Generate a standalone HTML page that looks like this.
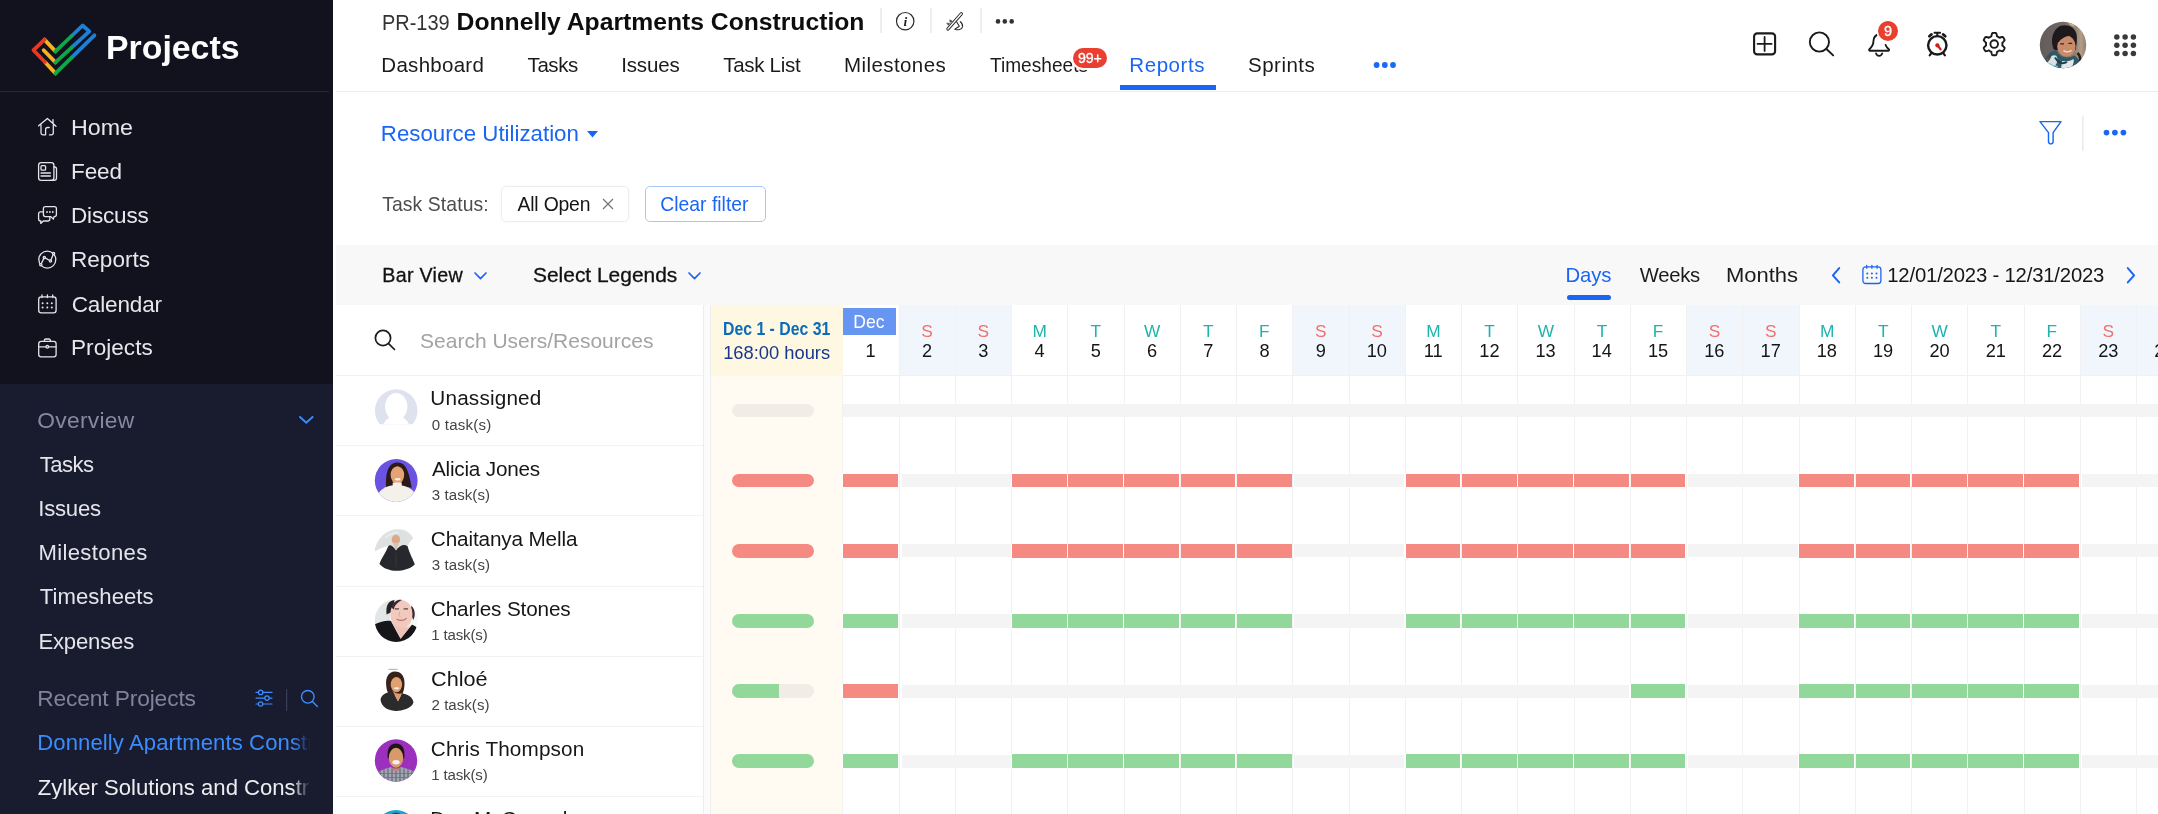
<!DOCTYPE html><html lang="en"><head><meta charset="utf-8"><title>Resource Utilization - Projects</title><style>
*{box-sizing:border-box;margin:0;padding:0}
html,body{width:2158px;height:814px;overflow:hidden;background:#fff}
body{font-family:"Liberation Sans",sans-serif;position:relative;color:#111}
.abs{position:absolute}
.t{position:absolute;white-space:nowrap;line-height:1}
#root{position:absolute;left:0;top:0;width:2158px;height:814px;overflow:hidden;will-change:transform}
#side{position:absolute;left:0;top:0;width:333px;height:814px;background:#191b2e;overflow:hidden}
#sidetop{position:absolute;left:0;top:0;width:333px;height:384px;background:#12121f}
.vdiv{position:absolute;width:1.5px;background:#eeeeee}
svg{position:absolute;overflow:visible}
.hl{position:absolute;height:1px;background:#f2f2f3}
.colbg{position:absolute;top:305px;height:70px;background:#f1f6fd}
.vl{position:absolute;top:305px;width:1px;height:509px;background:#f1f1f1}
.bar{position:absolute;height:13.5px}
.av{position:absolute;width:43px;height:43px;border-radius:50%;overflow:hidden;left:374.5px}
</style></head><body><div id="root">
<div id="side"><div id="sidetop"></div>
<div class="abs" style="left:0;top:91px;width:329px;height:1px;background:#26283a"></div>
<svg style="left:0;top:0" width="120" height="90" viewBox="0 0 120 90" fill="none" stroke-width="3.8" stroke-linecap="round" stroke-linejoin="round">
<path d="M71.6 36 L82.6 25.5 L89.3 31.4 L71.6 47.6" stroke="#1a80d9"/>
<path d="M71.6 57.6 L94.4 35.3" stroke="#1a80d9"/>
<path d="M44.5 39.6 L55.5 51.4" stroke="#f9b21d"/>
<path d="M55.5 62.4 L43.7 50.2" stroke="#f9b21d"/>
<path d="M44.9 62 L55.5 73.4" stroke="#f9b21d"/>
<path d="M55.5 51.4 L71.6 36" stroke="#10a64c"/>
<path d="M71.6 47.6 L55.5 62.4" stroke="#10a64c"/>
<path d="M55.5 73.4 L71.6 57.6" stroke="#10a64c"/>
<path d="M44.5 39.6 L33.5 50.2 L44.9 62" stroke="#f0351f"/>
</svg>
<div class="t " style="left:106.20px;top:32.00px;font-size:32.3px;color:#fdfdfd;letter-spacing:0.000px;font-weight:700;transform:scaleX(1.0474);transform-origin:0 0;">Projects</div>
<div class="t " style="left:71.00px;top:117.00px;font-size:22.54px;color:#e6e6eb;letter-spacing:0.000px;transform:scaleX(1.0320);transform-origin:0 0;">Home</div>
<div class="t " style="left:71.00px;top:161.00px;font-size:22.54px;color:#e6e6eb;letter-spacing:-0.108px;">Feed</div>
<div class="t " style="left:71.00px;top:205.00px;font-size:22.54px;color:#e6e6eb;letter-spacing:-0.183px;">Discuss</div>
<div class="t " style="left:71.00px;top:249.00px;font-size:22.54px;color:#e6e6eb;letter-spacing:0.024px;">Reports</div>
<div class="t " style="left:71.67px;top:294.00px;font-size:22.54px;color:#e6e6eb;letter-spacing:-0.142px;">Calendar</div>
<div class="t " style="left:71.00px;top:337.00px;font-size:22.54px;color:#e6e6eb;letter-spacing:0.052px;">Projects</div>
<div class="t " style="left:37.37px;top:409.00px;font-size:22.78px;color:#858aa2;letter-spacing:0.276px;">Overview</div>
<div class="t " style="left:39.76px;top:454.00px;font-size:22.14px;color:#e4e4ea;letter-spacing:-0.588px;">Tasks</div>
<div class="t " style="left:38.21px;top:498.00px;font-size:22.14px;color:#e4e4ea;letter-spacing:-0.203px;">Issues</div>
<div class="t " style="left:38.43px;top:542.00px;font-size:22.14px;color:#e4e4ea;letter-spacing:0.346px;">Milestones</div>
<div class="t " style="left:39.76px;top:586.00px;font-size:22.14px;color:#e4e4ea;letter-spacing:0.032px;">Timesheets</div>
<div class="t " style="left:38.43px;top:631.00px;font-size:22.14px;color:#e4e4ea;letter-spacing:-0.186px;">Expenses</div>
<div class="t " style="left:37.18px;top:687.00px;font-size:22.78px;color:#7f849c;letter-spacing:-0.136px;">Recent Projects</div>
<div class="t " style="left:37.23px;top:732.00px;font-size:22.14px;color:#3b8cff;letter-spacing:0.079px;width:275px;overflow:hidden;">Donnelly Apartments Construction</div>
<div class="t " style="left:37.74px;top:777.00px;font-size:22.14px;color:#ededf1;letter-spacing:-0.013px;width:275px;overflow:hidden;">Zylker Solutions and Construction</div>
<div class="abs" style="left:292px;top:725px;width:22px;height:89px;background:linear-gradient(90deg,rgba(25,27,46,0),#191b2e 85%)"></div>
<svg style="left:0;top:0" width="333" height="814" viewBox="0 0 333 814" fill="none" stroke="#e4e4ea" stroke-width="1.3" stroke-linecap="round" stroke-linejoin="round">
<!-- home -->
<path d="M38.6 125.8 L47.4 118.5 L56 126.3 M53 119.6 V123.4 M41 125 V133 a1.8 1.8 0 0 0 1.8 1.8 H45.6 V129.6 a2.1 2.1 0 0 1 2.1 -2.1 H49.2 M53.3 125 V133 a1.8 1.8 0 0 1 -1.8 1.8 H49.4"/>
<!-- feed -->
<rect x="38.6" y="162.6" width="15.3" height="17.8" rx="2.6"/>
<path d="M53.9 167 h.6 a2 2 0 0 1 2 2 V178 a2.4 2.4 0 0 1 -2.4 2.4 H50"/>
<rect x="41" y="165.6" width="4.6" height="4.6" rx="1"/>
<path d="M41 173 H50.4 M41 176 H50.4"/>
<!-- discuss -->
<path d="M45.4 206.6 H54.4 a2 2 0 0 1 2 2 V214.6 a2 2 0 0 1 -2 2 H54 L53.4 219 L50.6 216.6 H45.4 a2 2 0 0 1 -2 -2 V208.6 a2 2 0 0 1 2 -2 Z"/>
<path d="M43.2 211.8 H40.6 a2 2 0 0 0 -2 2 V219 a2 2 0 0 0 2 2 H40.9 L40.7 223.4 L43.4 221 H47.8 a2 2 0 0 0 2 -2 V217"/>
<g fill="#e4e4ea" stroke="none"><circle cx="47" cy="212" r=".9"/><circle cx="49.9" cy="212" r=".9"/><circle cx="52.8" cy="212" r=".9"/></g>
<!-- reports -->
<circle cx="47.3" cy="259.6" r="8.5"/>
<path d="M40.8 264.8 L44.3 257.4 L50.5 261 L53.6 253.6"/>
<g fill="#12121f"><circle cx="40.8" cy="264.8" r="1.1"/><circle cx="44.3" cy="257.4" r="1.1"/><circle cx="50.5" cy="261" r="1.1"/><circle cx="53.6" cy="253.6" r="1.1"/></g>
<!-- calendar -->
<rect x="38.7" y="296.8" width="17.4" height="16" rx="2.6"/>
<path d="M42 295 V297.6 M47.4 295 V297.6 M52.7 295 V297.6"/>
<g fill="#e4e4ea" stroke="none"><circle cx="42.6" cy="303.3" r="1"/><circle cx="47.3" cy="303.3" r="1"/><circle cx="51.8" cy="303.3" r="1"/><circle cx="42.6" cy="307.6" r="1"/><circle cx="47.3" cy="307.6" r="1"/><circle cx="51.8" cy="307.6" r="1"/></g>
<!-- briefcase -->
<rect x="38.7" y="341.4" width="17.4" height="15.4" rx="2.4"/>
<path d="M44.3 341.2 V340.6 a1.6 1.6 0 0 1 1.6 -1.6 H48.8 a1.6 1.6 0 0 1 1.6 1.6 V341.2 M38.8 346.8 H45.8 M48.8 346.8 H56"/>
<circle cx="47.3" cy="346.8" r="1.3"/>
<!-- overview chevron -->
<path d="M300 416.9 L306.3 422.7 L312.600 416.9" stroke="#2f8dff" stroke-width="2"/>
<!-- sliders -->
<g stroke="#3c8dff" stroke-width="1.2"><path d="M256 692.4 H258.3 M263 692.4 H272 M256 698.1 H264.6 M269.4 698.1 H272 M256 704 H258.2 M262.9 704 H272"/><circle cx="260.7" cy="692.4" r="2.2"/><circle cx="267" cy="698.1" r="2.2"/><circle cx="260.6" cy="704" r="2.2"/></g>
<path d="M286.6 689.5 V710.5" stroke="#3a3e57" stroke-width="1.2"/>
<g stroke="#3c8dff" stroke-width="1.4"><circle cx="307.8" cy="696.8" r="6.3"/><path d="M312.4 701.4 L317.4 706.4"/></g>
</svg>
</div>
<div class="abs" style="left:336px;top:91px;width:1822px;height:1px;background:#ececec"></div>
<div class="t " style="left:381.86px;top:12.00px;font-size:21.8px;color:#333;letter-spacing:0.000px;transform:scaleX(0.9153);transform-origin:0 0;">PR-139</div>
<div class="t " style="left:456.60px;top:10.00px;font-size:24.69px;color:#0d0d0d;letter-spacing:0.000px;font-weight:700;">Donnelly Apartments Construction</div>
<div class="vdiv" style="left:880px;top:8px;height:25px"></div>
<div class="vdiv" style="left:930px;top:8px;height:25px"></div>
<div class="vdiv" style="left:980px;top:8px;height:25px"></div>
<svg style="left:0;top:0" width="2158" height="100" viewBox="0 0 2158 100" fill="none" stroke="#1a1a1a" stroke-linecap="round" stroke-linejoin="round">
<!-- info -->
<circle cx="905.2" cy="21.2" r="8.7" stroke="#2a2a2a" stroke-width="1.2"/>
<text x="905.3" y="25.8" text-anchor="middle" font-family="Liberation Serif, serif" font-style="italic" font-weight="700" font-size="13.5" fill="#222" stroke="none">i</text>
<!-- pen -->
<g stroke="#2e2e2e" stroke-width="1.1">
<path d="M948 28.900 L961.300 13.800" stroke-width="3.300" />
<path d="M948 28.900 L961.300 13.800" stroke="#fff" stroke-width="1.400"/>
<path d="M950 20 L952.2 21.100 L950.3 22.200 Z M947.100 23 L949.700 23.700 L948.300 25 Z" fill="#2e2e2e" stroke-width=".5"/>
<path d="M956.600 21.700 L959.300 26.200 L954.800 29.200 C958 30.300 961.700 29.800 962.500 26.900 C963 24.900 962 23 960.300 21.700"/>
</g>
<!-- dots -->
<g fill="#333" stroke="none"><circle cx="998" cy="21.4" r="2.3"/><circle cx="1004.8" cy="21.4" r="2.3"/><circle cx="1011.7" cy="21.4" r="2.3"/></g>
<g fill="#1a6af5" stroke="none"><circle cx="1376.6" cy="65" r="2.9"/><circle cx="1384.8" cy="65" r="2.9"/><circle cx="1393" cy="65" r="2.9"/></g>
<!-- plus box -->
<rect x="1754.1" y="33.4" width="21" height="21" rx="3.2" stroke-width="2.1"/>
<path d="M1757.6 43.9 H1771.6 M1764.6 36.9 V50.9" stroke-width="1.8"/>
<!-- search -->
<circle cx="1819.4" cy="42" r="9.6" stroke-width="1.9"/>
<path d="M1826.4 49 L1833.2 55.4" stroke-width="1.9"/>
<!-- bell -->
<path d="M1879 34 C1875.6 35 1873.4 38 1873.4 41.6 C1873.4 45.6 1871.4 47.4 1869.4 49.2 C1868.8 49.8 1869.2 50.8 1870 50.8 H1888.2 C1889 50.8 1889.4 49.8 1888.8 49.2 C1887.6 48.2 1886.4 47 1885.6 45" stroke-width="1.9"/>
<path d="M1876 53.4 a3.2 3.2 0 0 0 6.2 0" stroke-width="1.8"/>
<circle cx="1888" cy="31" r="10.8" fill="#e8402f" stroke="#fff" stroke-width="1.6"/>
<text x="1888" y="36.2" text-anchor="middle" font-family="Liberation Sans, sans-serif" font-size="14.5" fill="#fff" stroke="#fff" stroke-width=".3">9</text>
<!-- clock -->
<circle cx="1937.3" cy="45.3" r="9.2" stroke-width="2.4"/>
<path d="M1934.500 32.700 H1940.100 M1937.300 33 V35.600" stroke-width="2"/>
<path d="M1929.300 36.200 L1931.500 34.400 M1945.300 36.200 L1943.100 34.400" stroke-width="2.700"/>
<path d="M1931 53.600 L1929.700 55.300 M1943.600 53.600 L1944.900 55.300" stroke-width="2.200"/>
<path d="M1937.600 45.600 L1940.600 49.300" stroke="#cc1f1a" stroke-width="2.200"/><circle cx="1937.400" cy="45.300" r="2.100" fill="#cc1f1a" stroke="none"/>
<!-- gear -->
<g transform="translate(1994.2 44.1)" stroke-width="1.9">
<path d="M0.00 -11.20 L0.49 -11.19 L0.98 -11.16 L1.46 -11.10 L1.93 -10.96 L2.26 -10.19 L2.51 -9.37 L2.70 -8.55 L2.83 -7.78 L3.14 -7.58 L3.47 -7.43 L3.79 -7.27 L4.10 -7.10 L4.41 -6.92 L4.70 -6.72 L4.99 -6.51 L5.32 -6.34 L6.05 -6.61 L6.86 -6.86 L7.70 -7.05 L8.52 -7.15 L8.89 -6.82 L9.17 -6.42 L9.45 -6.02 L9.70 -5.60 L9.93 -5.17 L10.15 -4.73 L10.35 -4.29 L10.45 -3.80 L9.95 -3.14 L9.37 -2.51 L8.75 -1.94 L8.15 -1.44 L8.13 -1.07 L8.17 -0.71 L8.19 -0.36 L8.20 -0.00 L8.19 0.36 L8.17 0.71 L8.13 1.07 L8.15 1.44 L8.75 1.94 L9.37 2.51 L9.95 3.14 L10.45 3.80 L10.35 4.29 L10.15 4.73 L9.93 5.17 L9.70 5.60 L9.45 6.02 L9.17 6.42 L8.89 6.82 L8.52 7.15 L7.70 7.05 L6.86 6.86 L6.05 6.61 L5.32 6.34 L4.99 6.51 L4.70 6.72 L4.41 6.92 L4.10 7.10 L3.79 7.27 L3.47 7.43 L3.14 7.58 L2.83 7.78 L2.70 8.55 L2.51 9.37 L2.26 10.19 L1.93 10.96 L1.46 11.10 L0.98 11.16 L0.49 11.19 L0.00 11.20 L-0.49 11.19 L-0.98 11.16 L-1.46 11.10 L-1.93 10.96 L-2.26 10.19 L-2.51 9.37 L-2.70 8.55 L-2.83 7.78 L-3.14 7.58 L-3.47 7.43 L-3.79 7.27 L-4.10 7.10 L-4.41 6.92 L-4.70 6.72 L-4.99 6.51 L-5.32 6.34 L-6.05 6.61 L-6.86 6.86 L-7.70 7.05 L-8.52 7.15 L-8.89 6.82 L-9.17 6.42 L-9.45 6.02 L-9.70 5.60 L-9.93 5.17 L-10.15 4.73 L-10.35 4.29 L-10.45 3.80 L-9.95 3.14 L-9.37 2.51 L-8.75 1.94 L-8.15 1.44 L-8.13 1.07 L-8.17 0.71 L-8.19 0.36 L-8.20 0.00 L-8.19 -0.36 L-8.17 -0.71 L-8.13 -1.07 L-8.15 -1.44 L-8.75 -1.94 L-9.37 -2.51 L-9.95 -3.14 L-10.45 -3.80 L-10.35 -4.29 L-10.15 -4.73 L-9.93 -5.17 L-9.70 -5.60 L-9.45 -6.02 L-9.17 -6.42 L-8.89 -6.82 L-8.52 -7.15 L-7.70 -7.05 L-6.86 -6.86 L-6.05 -6.61 L-5.32 -6.34 L-4.99 -6.51 L-4.70 -6.72 L-4.41 -6.92 L-4.10 -7.10 L-3.79 -7.27 L-3.47 -7.43 L-3.14 -7.58 L-2.83 -7.78 L-2.70 -8.55 L-2.51 -9.37 L-2.26 -10.19 L-1.93 -10.96 L-1.46 -11.10 L-0.98 -11.16 L-0.49 -11.19 L-0.00 -11.20Z"/>
<circle r="3.8"/>
</g>
<!-- apps -->
<g fill="#3a3a3a" stroke="none">
<circle cx="2116.8" cy="36.9" r="2.75"/><circle cx="2125.1" cy="36.9" r="2.75"/><circle cx="2133.4" cy="36.9" r="2.75"/><circle cx="2116.8" cy="45.2" r="2.75"/><circle cx="2125.1" cy="45.2" r="2.75"/><circle cx="2133.4" cy="45.2" r="2.75"/><circle cx="2116.8" cy="53.6" r="2.75"/><circle cx="2125.1" cy="53.6" r="2.75"/><circle cx="2133.4" cy="53.6" r="2.75"/>
</g>
</svg>
<div class="t " style="left:381.36px;top:55.00px;font-size:20.5px;color:#1b1b1b;letter-spacing:0.272px;">Dashboard</div>
<div class="t " style="left:527.59px;top:55.00px;font-size:20.5px;color:#1b1b1b;letter-spacing:-0.438px;">Tasks</div>
<div class="t " style="left:621.15px;top:55.00px;font-size:20.5px;color:#1b1b1b;letter-spacing:-0.137px;">Issues</div>
<div class="t " style="left:723.34px;top:55.00px;font-size:20.5px;color:#1b1b1b;letter-spacing:-0.310px;">Task List</div>
<div class="t " style="left:844.11px;top:55.00px;font-size:20.5px;color:#1b1b1b;letter-spacing:0.402px;">Milestones</div>
<div class="t " style="left:990.09px;top:55.00px;font-size:20.5px;color:#1b1b1b;letter-spacing:0.000px;transform:scaleX(0.9319);transform-origin:0 0;">Timesheets</div>
<div class="t " style="left:1248.08px;top:55.00px;font-size:20.5px;color:#1b1b1b;letter-spacing:0.472px;">Sprints</div>
<div class="t " style="left:1129.36px;top:55.00px;font-size:20.5px;color:#1a66f2;letter-spacing:0.551px;">Reports</div>
<div class="abs" style="left:1120px;top:85px;width:95.5px;height:4.5px;background:#1a66f2"></div>
<div class="abs" style="left:1073px;top:48px;width:33.5px;height:20px;border-radius:10px;background:#ea3f30;box-shadow:0 0 0 2px #fff;color:#fff;font-size:14.2px;line-height:21px;text-align:center;letter-spacing:-.2px;-webkit-text-stroke:.3px #fff">99+</div>
<div class="t " style="left:380.82px;top:123.00px;font-size:22.27px;color:#1a66f2;letter-spacing:0.002px;">Resource Utilization</div>
<svg style="left:586.5px;top:131px" width="11" height="7" viewBox="0 0 11 7"><path d="M0 0H11L5.5 6.6Z" fill="#1a66f2"/></svg>
<div class="t " style="left:382.21px;top:195.00px;font-size:19.35px;color:#4d4d4d;letter-spacing:0.102px;">Task Status:</div>
<div class="abs" style="left:501px;top:186.1px;width:128px;height:35.7px;border:1px solid #eeeeee;border-radius:5px;box-shadow:0 0 3px rgba(0,0,0,.05)"></div>
<div class="t " style="left:517.50px;top:195.00px;font-size:19.35px;color:#161616;letter-spacing:-0.178px;">All Open</div>
<svg style="left:601.5px;top:198px" width="12" height="12" viewBox="0 0 12 12"><path d="M1 1L11 11M11 1L1 11" stroke="#777" stroke-width="1.3" fill="none"/></svg>
<div class="abs" style="left:644.5px;top:186.1px;width:121px;height:35.7px;border:1px solid #a8c6f8;border-radius:5px"></div>
<div class="t " style="left:660.28px;top:195.00px;font-size:19.35px;color:#1a66f2;letter-spacing:0.006px;">Clear filter</div>
<svg style="left:0;top:100px" width="2158" height="60" viewBox="0 100 2158 60" fill="none" stroke="#1a66f5" stroke-width="1.45" stroke-linejoin="round">
<path d="M2040 121.6 H2061 L2053.100 132.600 V141.600 a2.300 2.300 0 0 1 -4.600 0 V132.600 Z"/>
<path d="M2082.800 116 V151" stroke="#e9e9e9" stroke-width="1.4"/>
<g fill="#1a66f5" stroke="none"><circle cx="2106.500" cy="132.600" r="2.85"/><circle cx="2114.900" cy="132.600" r="2.85"/><circle cx="2123.400" cy="132.600" r="2.85"/></g>
</svg>
<div class="abs" style="left:336px;top:245.3px;width:1822px;height:59.7px;background:#f8f8f8"></div>
<div class="t " style="left:382.32px;top:266.00px;font-size:19.7px;color:#111;letter-spacing:0.275px;-webkit-text-stroke:.3px #111;">Bar View</div>
<div class="t " style="left:533.01px;top:266.00px;font-size:19.7px;color:#111;letter-spacing:0.000px;transform:scaleX(1.0629);transform-origin:0 0;-webkit-text-stroke:.3px #111;">Select Legends</div>
<svg style="left:473.5px;top:271.5px" width="13" height="8" viewBox="0 0 13 8"><path d="M1 1L6.5 6.6L12 1" stroke="#1a66f2" stroke-width="1.7" fill="none" stroke-linecap="round" stroke-linejoin="round"/></svg>
<svg style="left:687.5px;top:271.5px" width="13" height="8" viewBox="0 0 13 8"><path d="M1 1L6.5 6.6L12 1" stroke="#1a66f2" stroke-width="1.7" fill="none" stroke-linecap="round" stroke-linejoin="round"/></svg>
<div class="t " style="left:1565.58px;top:265.00px;font-size:20.29px;color:#1a66f2;letter-spacing:-0.126px;">Days</div>
<div class="abs" style="left:1567px;top:295px;width:44px;height:4.5px;border-radius:2.5px;background:#1a66f2"></div>
<div class="t " style="left:1639.65px;top:265.00px;font-size:20.29px;color:#1b1b1b;letter-spacing:-0.268px;">Weeks</div>
<div class="t " style="left:1725.98px;top:265.00px;font-size:20.29px;color:#1b1b1b;letter-spacing:0.000px;transform:scaleX(1.0838);transform-origin:0 0;">Months</div>
<svg style="left:1831px;top:267px" width="10" height="17" viewBox="0 0 10 17"><path d="M8.2 1.1L1.9 8.3L8.2 15.4" stroke="#1a66f2" stroke-width="2" fill="none" stroke-linecap="round" stroke-linejoin="round"/></svg>
<svg style="left:2125.5px;top:267px" width="10" height="17" viewBox="0 0 10 17"><path d="M1.8 1.1L8.1 8.3L1.8 15.4" stroke="#1a66f2" stroke-width="2" fill="none" stroke-linecap="round" stroke-linejoin="round"/></svg>
<svg style="left:1862px;top:264.5px" width="20" height="19" viewBox="0 0 20 19" fill="none" stroke="#1a66f2" stroke-width="1.3"><rect x=".9" y="1.9" width="18" height="16.6" rx="2.8"/><path d="M4.7 .4V3.2M9.9 .4V3.2M15.1 .4V3.2" stroke-linecap="round"/><g fill="#1a66f2" stroke="none"><circle cx="5.3" cy="8.4" r="1"/><circle cx="9.9" cy="8.4" r="1"/><circle cx="14.5" cy="8.4" r="1"/><circle cx="5.3" cy="12.8" r="1"/><circle cx="9.9" cy="12.8" r="1"/><circle cx="14.5" cy="12.8" r="1"/></g></svg>
<div class="t " style="left:1887.28px;top:265.00px;font-size:20.29px;color:#161616;letter-spacing:-0.178px;">12/01/2023 - 12/31/2023</div>
<div class="abs" style="left:703px;top:305px;width:1px;height:509px;background:#ececf2"></div>
<div class="abs" style="left:704px;top:305px;width:6px;height:509px;background:#fbfbfc"></div>
<div class="abs" style="left:710px;top:305px;width:1px;height:509px;background:#efefef"></div>
<svg style="left:374px;top:329px" width="22" height="22" viewBox="0 0 22 22" fill="none" stroke="#1b1b1b" stroke-width="1.7" stroke-linecap="round"><circle cx="9" cy="9" r="7.6"/><path d="M14.6 14.6L20.5 20.5"/></svg>
<div class="t " style="left:420.06px;top:330.00px;font-size:21.0px;color:#a3a3a3;letter-spacing:-0.002px;">Search Users/Resources</div>
<div class="abs" style="left:711px;top:305px;width:131.7px;height:70.5px;background:#fef7e1"></div>
<div class="abs" style="left:711px;top:375.5px;width:131.7px;height:439px;background:#fffbf3"></div>
<div class="abs" style="left:842.2px;top:375.5px;width:1px;height:439px;background:#f3f3ee"></div>
<div class="t " style="left:722.56px;top:321.00px;font-size:17.6px;color:#0c6bb8;letter-spacing:0.000px;font-weight:700;transform:scaleX(0.8986);transform-origin:0 0;">Dec 1 - Dec 31</div>
<div class="t " style="left:723.13px;top:344.00px;font-size:18.33px;color:#17378c;letter-spacing:0.001px;">168:00 hours</div>
<div class="colbg" style="left:899.50px;width:56.25px"></div>
<div class="colbg" style="left:955.75px;width:56.25px"></div>
<div class="colbg" style="left:1293.25px;width:56.25px"></div>
<div class="colbg" style="left:1349.50px;width:56.25px"></div>
<div class="colbg" style="left:1687.00px;width:56.25px"></div>
<div class="colbg" style="left:1743.25px;width:56.25px"></div>
<div class="colbg" style="left:2080.75px;width:56.25px"></div>
<div class="colbg" style="left:2137.00px;width:56.25px"></div>
<div class="vl" style="left:898.60px"></div>
<div class="vl" style="left:954.85px"></div>
<div class="vl" style="left:1011.10px"></div>
<div class="vl" style="left:1067.35px"></div>
<div class="vl" style="left:1123.60px"></div>
<div class="vl" style="left:1179.85px"></div>
<div class="vl" style="left:1236.10px"></div>
<div class="vl" style="left:1292.35px"></div>
<div class="vl" style="left:1348.60px"></div>
<div class="vl" style="left:1404.85px"></div>
<div class="vl" style="left:1461.10px"></div>
<div class="vl" style="left:1517.35px"></div>
<div class="vl" style="left:1573.60px"></div>
<div class="vl" style="left:1629.85px"></div>
<div class="vl" style="left:1686.10px"></div>
<div class="vl" style="left:1742.35px"></div>
<div class="vl" style="left:1798.60px"></div>
<div class="vl" style="left:1854.85px"></div>
<div class="vl" style="left:1911.10px"></div>
<div class="vl" style="left:1967.35px"></div>
<div class="vl" style="left:2023.60px"></div>
<div class="vl" style="left:2079.85px"></div>
<div class="vl" style="left:2136.10px"></div>
<div class="vl" style="left:2192.35px"></div>
<div class="hl" style="left:843px;top:375px;width:1315px;background:#f1f1f3"></div>
<div class="abs" style="left:843px;top:308px;width:53px;height:27px;background:#6695f2"></div>
<div class="t " style="left:853.30px;top:314.00px;font-size:17.52px;color:#fff;letter-spacing:-0.001px;">Dec</div>
<div class="t " style="left:865.57px;top:342.00px;font-size:18.2px;color:#151515;letter-spacing:0.000px;">1</div>
<div class="t " style="left:921.35px;top:323.00px;font-size:17.3px;color:#f0716d;letter-spacing:0.000px;">S</div>
<div class="t " style="left:922.05px;top:342.00px;font-size:18.2px;color:#151515;letter-spacing:0.000px;">2</div>
<div class="t " style="left:977.60px;top:323.00px;font-size:17.3px;color:#f0716d;letter-spacing:0.000px;">S</div>
<div class="t " style="left:978.37px;top:342.00px;font-size:18.2px;color:#151515;letter-spacing:0.000px;">3</div>
<div class="t " style="left:1032.42px;top:323.00px;font-size:17.3px;color:#1fb3ad;letter-spacing:0.000px;">M</div>
<div class="t " style="left:1034.62px;top:342.00px;font-size:18.2px;color:#151515;letter-spacing:0.000px;">4</div>
<div class="t " style="left:1090.60px;top:323.00px;font-size:17.3px;color:#1fb3ad;letter-spacing:0.000px;">T</div>
<div class="t " style="left:1090.82px;top:342.00px;font-size:18.2px;color:#151515;letter-spacing:0.000px;">5</div>
<div class="t " style="left:1143.95px;top:323.00px;font-size:17.3px;color:#1fb3ad;letter-spacing:0.000px;">W</div>
<div class="t " style="left:1147.01px;top:342.00px;font-size:18.2px;color:#151515;letter-spacing:0.000px;">6</div>
<div class="t " style="left:1203.10px;top:323.00px;font-size:17.3px;color:#1fb3ad;letter-spacing:0.000px;">T</div>
<div class="t " style="left:1203.30px;top:342.00px;font-size:18.2px;color:#151515;letter-spacing:0.000px;">7</div>
<div class="t " style="left:1258.98px;top:323.00px;font-size:17.3px;color:#1fb3ad;letter-spacing:0.000px;">F</div>
<div class="t " style="left:1259.55px;top:342.00px;font-size:18.2px;color:#151515;letter-spacing:0.000px;">8</div>
<div class="t " style="left:1315.10px;top:323.00px;font-size:17.3px;color:#f0716d;letter-spacing:0.000px;">S</div>
<div class="t " style="left:1315.82px;top:342.00px;font-size:18.2px;color:#151515;letter-spacing:0.000px;">9</div>
<div class="t " style="left:1371.35px;top:323.00px;font-size:17.3px;color:#f0716d;letter-spacing:0.000px;">S</div>
<div class="t " style="left:1366.68px;top:342.00px;font-size:18.2px;color:#151515;letter-spacing:0.000px;">10</div>
<div class="t " style="left:1426.17px;top:323.00px;font-size:17.3px;color:#1fb3ad;letter-spacing:0.000px;">M</div>
<div class="t " style="left:1423.68px;top:342.00px;font-size:18.2px;color:#151515;letter-spacing:-0.000px;">11</div>
<div class="t " style="left:1484.35px;top:323.00px;font-size:17.3px;color:#1fb3ad;letter-spacing:0.000px;">T</div>
<div class="t " style="left:1479.27px;top:342.00px;font-size:18.2px;color:#151515;letter-spacing:-0.000px;">12</div>
<div class="t " style="left:1537.70px;top:323.00px;font-size:17.3px;color:#1fb3ad;letter-spacing:0.000px;">W</div>
<div class="t " style="left:1535.48px;top:342.00px;font-size:18.2px;color:#151515;letter-spacing:0.000px;">13</div>
<div class="t " style="left:1596.85px;top:323.00px;font-size:17.3px;color:#1fb3ad;letter-spacing:0.000px;">T</div>
<div class="t " style="left:1591.59px;top:342.00px;font-size:18.2px;color:#151515;letter-spacing:-0.000px;">14</div>
<div class="t " style="left:1652.73px;top:323.00px;font-size:17.3px;color:#1fb3ad;letter-spacing:0.000px;">F</div>
<div class="t " style="left:1647.96px;top:342.00px;font-size:18.2px;color:#151515;letter-spacing:-0.000px;">15</div>
<div class="t " style="left:1708.85px;top:323.00px;font-size:17.3px;color:#f0716d;letter-spacing:0.000px;">S</div>
<div class="t " style="left:1704.23px;top:342.00px;font-size:18.2px;color:#151515;letter-spacing:0.000px;">16</div>
<div class="t " style="left:1765.10px;top:323.00px;font-size:17.3px;color:#f0716d;letter-spacing:0.000px;">S</div>
<div class="t " style="left:1760.52px;top:342.00px;font-size:18.2px;color:#151515;letter-spacing:-0.000px;">17</div>
<div class="t " style="left:1819.92px;top:323.00px;font-size:17.3px;color:#1fb3ad;letter-spacing:0.000px;">M</div>
<div class="t " style="left:1816.71px;top:342.00px;font-size:18.2px;color:#151515;letter-spacing:-0.000px;">18</div>
<div class="t " style="left:1878.10px;top:323.00px;font-size:17.3px;color:#1fb3ad;letter-spacing:0.000px;">T</div>
<div class="t " style="left:1873.00px;top:342.00px;font-size:18.2px;color:#151515;letter-spacing:0.000px;">19</div>
<div class="t " style="left:1931.45px;top:323.00px;font-size:17.3px;color:#1fb3ad;letter-spacing:0.000px;">W</div>
<div class="t " style="left:1929.41px;top:342.00px;font-size:18.2px;color:#151515;letter-spacing:0.000px;">20</div>
<div class="t " style="left:1990.60px;top:323.00px;font-size:17.3px;color:#1fb3ad;letter-spacing:0.000px;">T</div>
<div class="t " style="left:1985.75px;top:342.00px;font-size:18.2px;color:#151515;letter-spacing:-0.000px;">21</div>
<div class="t " style="left:2046.48px;top:323.00px;font-size:17.3px;color:#1fb3ad;letter-spacing:0.000px;">F</div>
<div class="t " style="left:2042.00px;top:342.00px;font-size:18.2px;color:#151515;letter-spacing:-0.000px;">22</div>
<div class="t " style="left:2102.60px;top:323.00px;font-size:17.3px;color:#f0716d;letter-spacing:0.000px;">S</div>
<div class="t " style="left:2098.21px;top:342.00px;font-size:18.2px;color:#151515;letter-spacing:0.000px;">23</div>
<div class="t " style="left:2158.85px;top:323.00px;font-size:17.3px;color:#f0716d;letter-spacing:0.000px;">S</div>
<div class="t " style="left:2154.32px;top:342.00px;font-size:18.2px;color:#151515;letter-spacing:0.000px;">24</div>
<div class="hl" style="left:336px;top:375.10px;width:367px"></div>
<div class="t " style="left:430.35px;top:388.00px;font-size:20.71px;color:#161616;letter-spacing:0.178px;">Unassigned</div>
<div class="t " style="left:431.74px;top:417.00px;font-size:15.06px;color:#444;letter-spacing:0.244px;">0 task(s)</div>
<svg style="left:374px;top:387.70px" width="45" height="45" viewBox="374 387.70 45 45"><defs><clipPath id="c0"><rect x="374" y="386.70" width="45" height="37.20"/></clipPath></defs>
<g clip-path="url(#c0)"><circle cx="396.2" cy="410.30" r="21.300" fill="#dde2ee"/><ellipse cx="396.2" cy="428.00" rx="13.600" ry="12" fill="#fff"/><ellipse cx="396.2" cy="406.30" rx="11.200" ry="13.600" fill="#fff"/><rect x="389" y="410.70" width="14.400" height="20" rx="3" fill="#fff"/></g></svg>
<div class="bar" style="left:843px;top:404.00px;width:1315px;height:13.2px;background:#f4f4f4"></div>
<div class="bar" style="left:731.8px;top:403.70px;width:82.5px;border-radius:7px;background:#f1ede6;overflow:hidden"></div>
<div class="hl" style="left:336px;top:445.25px;width:367px"></div>
<div class="t " style="left:431.90px;top:459.00px;font-size:20.71px;color:#161616;letter-spacing:-0.197px;">Alicia Jones</div>
<div class="t " style="left:431.74px;top:487.00px;font-size:15.06px;color:#444;letter-spacing:0.081px;">3 task(s)</div>
<svg style="left:374px;top:457.85px" width="45" height="45" viewBox="374 457.85 45 45"><defs><clipPath id="c1"><circle cx="396.2" cy="480.35" r="21.400"/></clipPath></defs>
<g clip-path="url(#c1)"><rect x="374" y="457.85" width="45" height="45" fill="#6a52e2"/>
<path d="M386.2 488.35 C385.2 472.35 388.2 462.35 397.7 462.35 C407.2 462.35 409.2 474.35 411.7 487.35 Z" fill="#2b1a17"/>
<ellipse cx="397.4" cy="474.85" rx="6.800" ry="8.800" fill="#e5a273"/>
<ellipse cx="397.59999999999997" cy="479.15" rx="3" ry="1.200" fill="#fbeee6"/>
<ellipse cx="396.7" cy="498.85" rx="20" ry="14" fill="#f4f0ea"/>
<rect x="392.7" y="482.35" width="9" height="5" fill="#f4f0ea"/></g></svg>
<div class="bar" style="left:843px;top:474.15px;width:1315px;height:13.2px;background:#f4f4f4"></div>
<div class="bar" style="left:731.8px;top:473.85px;width:82.5px;border-radius:7px;background:#f1ede6;overflow:hidden"><div style="width:100.0%;height:100%;background:#f58a83"></div></div>
<div class="bar" style="left:841.85px;top:473.35px;width:60.65px;height:15px;background:#fff"></div>
<div class="bar" style="left:1010.60px;top:473.35px;width:58.45px;height:15px;background:#fff"></div>
<div class="bar" style="left:1066.85px;top:473.35px;width:58.45px;height:15px;background:#fff"></div>
<div class="bar" style="left:1123.10px;top:473.35px;width:58.45px;height:15px;background:#fff"></div>
<div class="bar" style="left:1179.35px;top:473.35px;width:58.45px;height:15px;background:#fff"></div>
<div class="bar" style="left:1235.60px;top:473.35px;width:58.45px;height:15px;background:#fff"></div>
<div class="bar" style="left:1404.35px;top:473.35px;width:58.45px;height:15px;background:#fff"></div>
<div class="bar" style="left:1460.60px;top:473.35px;width:58.45px;height:15px;background:#fff"></div>
<div class="bar" style="left:1516.85px;top:473.35px;width:58.45px;height:15px;background:#fff"></div>
<div class="bar" style="left:1573.10px;top:473.35px;width:58.45px;height:15px;background:#fff"></div>
<div class="bar" style="left:1629.35px;top:473.35px;width:58.45px;height:15px;background:#fff"></div>
<div class="bar" style="left:1798.10px;top:473.35px;width:58.45px;height:15px;background:#fff"></div>
<div class="bar" style="left:1854.35px;top:473.35px;width:58.45px;height:15px;background:#fff"></div>
<div class="bar" style="left:1910.60px;top:473.35px;width:58.45px;height:15px;background:#fff"></div>
<div class="bar" style="left:1966.85px;top:473.35px;width:58.45px;height:15px;background:#fff"></div>
<div class="bar" style="left:2023.10px;top:473.35px;width:58.45px;height:15px;background:#fff"></div>
<div class="vl" style="left:898.60px;top:472.85px;height:16px"></div>
<div class="bar" style="left:843.05px;top:473.85px;width:54.95px;background:#f58a83"></div>
<div class="vl" style="left:1067.35px;top:472.85px;height:16px"></div>
<div class="bar" style="left:1011.80px;top:473.85px;width:54.95px;background:#f58a83"></div>
<div class="vl" style="left:1123.60px;top:472.85px;height:16px"></div>
<div class="bar" style="left:1068.05px;top:473.85px;width:54.95px;background:#f58a83"></div>
<div class="vl" style="left:1179.85px;top:472.85px;height:16px"></div>
<div class="bar" style="left:1124.30px;top:473.85px;width:54.95px;background:#f58a83"></div>
<div class="vl" style="left:1236.10px;top:472.85px;height:16px"></div>
<div class="bar" style="left:1180.55px;top:473.85px;width:54.95px;background:#f58a83"></div>
<div class="vl" style="left:1292.35px;top:472.85px;height:16px"></div>
<div class="bar" style="left:1236.80px;top:473.85px;width:54.95px;background:#f58a83"></div>
<div class="vl" style="left:1461.10px;top:472.85px;height:16px"></div>
<div class="bar" style="left:1405.55px;top:473.85px;width:54.95px;background:#f58a83"></div>
<div class="vl" style="left:1517.35px;top:472.85px;height:16px"></div>
<div class="bar" style="left:1461.80px;top:473.85px;width:54.95px;background:#f58a83"></div>
<div class="vl" style="left:1573.60px;top:472.85px;height:16px"></div>
<div class="bar" style="left:1518.05px;top:473.85px;width:54.95px;background:#f58a83"></div>
<div class="vl" style="left:1629.85px;top:472.85px;height:16px"></div>
<div class="bar" style="left:1574.30px;top:473.85px;width:54.95px;background:#f58a83"></div>
<div class="vl" style="left:1686.10px;top:472.85px;height:16px"></div>
<div class="bar" style="left:1630.55px;top:473.85px;width:54.95px;background:#f58a83"></div>
<div class="vl" style="left:1854.85px;top:472.85px;height:16px"></div>
<div class="bar" style="left:1799.30px;top:473.85px;width:54.95px;background:#f58a83"></div>
<div class="vl" style="left:1911.10px;top:472.85px;height:16px"></div>
<div class="bar" style="left:1855.55px;top:473.85px;width:54.95px;background:#f58a83"></div>
<div class="vl" style="left:1967.35px;top:472.85px;height:16px"></div>
<div class="bar" style="left:1911.80px;top:473.85px;width:54.95px;background:#f58a83"></div>
<div class="vl" style="left:2023.60px;top:472.85px;height:16px"></div>
<div class="bar" style="left:1968.05px;top:473.85px;width:54.95px;background:#f58a83"></div>
<div class="vl" style="left:2079.85px;top:472.85px;height:16px"></div>
<div class="bar" style="left:2024.30px;top:473.85px;width:54.95px;background:#f58a83"></div>
<div class="hl" style="left:336px;top:515.40px;width:367px"></div>
<div class="t " style="left:430.86px;top:529.00px;font-size:20.71px;color:#161616;letter-spacing:-0.136px;">Chaitanya Mella</div>
<div class="t " style="left:431.74px;top:557.00px;font-size:15.06px;color:#444;letter-spacing:0.081px;">3 task(s)</div>
<svg style="left:374px;top:528.00px" width="45" height="45" viewBox="374 528.00 45 45">
<path d="M374.8 551.60 C375.4 541.00 384 530.50 397 529.30 C405 528.80 411 533.00 413.3 538.60 C411 540.00 409 543.00 408 546.00 L388 546.00 C383 547.00 378 549.50 374.8 551.60 Z" fill="#dde1e0"/>
<path d="M385 538.00 C389 534.00 394 532.50 399 532.60" stroke="#eef0ef" stroke-width="1.2" fill="none"/>
<ellipse cx="395.9" cy="539.60" rx="4.2" ry="4.9" fill="#dca888"/>
<path d="M392.6 541.50 C393 545.00 394.5 548.50 396 550.00 C397.6 548.50 399 545.00 399.3 541.50 C397 543.50 394.8 543.50 392.6 541.50 Z" fill="#d9c3b2"/>
<path d="M388.2 546.20 C390.5 543.60 393.6 546.50 396 550.40 C398.6 546.20 403.6 543.00 407.6 546.20 C409.6 554.00 413.6 560.00 414.8 564.60 C410 569.60 401 571.00 396.5 570.80 C390 570.80 383.4 568.60 379.5 564.00 C381 558.50 386 552.50 388.2 546.20 Z" fill="#27282d"/>
<path d="M396 553.00 V567.00" stroke="#3a3b41" stroke-width=".8"/></svg>
<div class="bar" style="left:843px;top:544.30px;width:1315px;height:13.2px;background:#f4f4f4"></div>
<div class="bar" style="left:731.8px;top:544.00px;width:82.5px;border-radius:7px;background:#f1ede6;overflow:hidden"><div style="width:100.0%;height:100%;background:#f58a83"></div></div>
<div class="bar" style="left:841.85px;top:543.50px;width:60.65px;height:15px;background:#fff"></div>
<div class="bar" style="left:1010.60px;top:543.50px;width:58.45px;height:15px;background:#fff"></div>
<div class="bar" style="left:1066.85px;top:543.50px;width:58.45px;height:15px;background:#fff"></div>
<div class="bar" style="left:1123.10px;top:543.50px;width:58.45px;height:15px;background:#fff"></div>
<div class="bar" style="left:1179.35px;top:543.50px;width:58.45px;height:15px;background:#fff"></div>
<div class="bar" style="left:1235.60px;top:543.50px;width:58.45px;height:15px;background:#fff"></div>
<div class="bar" style="left:1404.35px;top:543.50px;width:58.45px;height:15px;background:#fff"></div>
<div class="bar" style="left:1460.60px;top:543.50px;width:58.45px;height:15px;background:#fff"></div>
<div class="bar" style="left:1516.85px;top:543.50px;width:58.45px;height:15px;background:#fff"></div>
<div class="bar" style="left:1573.10px;top:543.50px;width:58.45px;height:15px;background:#fff"></div>
<div class="bar" style="left:1629.35px;top:543.50px;width:58.45px;height:15px;background:#fff"></div>
<div class="bar" style="left:1798.10px;top:543.50px;width:58.45px;height:15px;background:#fff"></div>
<div class="bar" style="left:1854.35px;top:543.50px;width:58.45px;height:15px;background:#fff"></div>
<div class="bar" style="left:1910.60px;top:543.50px;width:58.45px;height:15px;background:#fff"></div>
<div class="bar" style="left:1966.85px;top:543.50px;width:58.45px;height:15px;background:#fff"></div>
<div class="bar" style="left:2023.10px;top:543.50px;width:58.45px;height:15px;background:#fff"></div>
<div class="vl" style="left:898.60px;top:543.00px;height:16px"></div>
<div class="bar" style="left:843.05px;top:544.00px;width:54.95px;background:#f58a83"></div>
<div class="vl" style="left:1067.35px;top:543.00px;height:16px"></div>
<div class="bar" style="left:1011.80px;top:544.00px;width:54.95px;background:#f58a83"></div>
<div class="vl" style="left:1123.60px;top:543.00px;height:16px"></div>
<div class="bar" style="left:1068.05px;top:544.00px;width:54.95px;background:#f58a83"></div>
<div class="vl" style="left:1179.85px;top:543.00px;height:16px"></div>
<div class="bar" style="left:1124.30px;top:544.00px;width:54.95px;background:#f58a83"></div>
<div class="vl" style="left:1236.10px;top:543.00px;height:16px"></div>
<div class="bar" style="left:1180.55px;top:544.00px;width:54.95px;background:#f58a83"></div>
<div class="vl" style="left:1292.35px;top:543.00px;height:16px"></div>
<div class="bar" style="left:1236.80px;top:544.00px;width:54.95px;background:#f58a83"></div>
<div class="vl" style="left:1461.10px;top:543.00px;height:16px"></div>
<div class="bar" style="left:1405.55px;top:544.00px;width:54.95px;background:#f58a83"></div>
<div class="vl" style="left:1517.35px;top:543.00px;height:16px"></div>
<div class="bar" style="left:1461.80px;top:544.00px;width:54.95px;background:#f58a83"></div>
<div class="vl" style="left:1573.60px;top:543.00px;height:16px"></div>
<div class="bar" style="left:1518.05px;top:544.00px;width:54.95px;background:#f58a83"></div>
<div class="vl" style="left:1629.85px;top:543.00px;height:16px"></div>
<div class="bar" style="left:1574.30px;top:544.00px;width:54.95px;background:#f58a83"></div>
<div class="vl" style="left:1686.10px;top:543.00px;height:16px"></div>
<div class="bar" style="left:1630.55px;top:544.00px;width:54.95px;background:#f58a83"></div>
<div class="vl" style="left:1854.85px;top:543.00px;height:16px"></div>
<div class="bar" style="left:1799.30px;top:544.00px;width:54.95px;background:#f58a83"></div>
<div class="vl" style="left:1911.10px;top:543.00px;height:16px"></div>
<div class="bar" style="left:1855.55px;top:544.00px;width:54.95px;background:#f58a83"></div>
<div class="vl" style="left:1967.35px;top:543.00px;height:16px"></div>
<div class="bar" style="left:1911.80px;top:544.00px;width:54.95px;background:#f58a83"></div>
<div class="vl" style="left:2023.60px;top:543.00px;height:16px"></div>
<div class="bar" style="left:1968.05px;top:544.00px;width:54.95px;background:#f58a83"></div>
<div class="vl" style="left:2079.85px;top:543.00px;height:16px"></div>
<div class="bar" style="left:2024.30px;top:544.00px;width:54.95px;background:#f58a83"></div>
<div class="hl" style="left:336px;top:585.55px;width:367px"></div>
<div class="t " style="left:430.86px;top:599.00px;font-size:20.71px;color:#161616;letter-spacing:-0.134px;">Charles Stones</div>
<div class="t " style="left:431.17px;top:627.00px;font-size:15.06px;color:#444;letter-spacing:-0.148px;">1 task(s)</div>
<svg style="left:374px;top:598.15px" width="45" height="45" viewBox="374 598.15 45 45"><defs><clipPath id="c3"><circle cx="396.2" cy="620.65" r="21.400"/></clipPath></defs>
<g clip-path="url(#c3)"><rect x="374" y="598.15" width="45" height="45" fill="#f6f7f7"/><rect x="374" y="598.15" width="16" height="45" fill="#e3e6e6"/>
<path d="M386.6 614.65 C385.4 605.65 388.6 600.65 394.5 600.15 L392.6 611.65 Z" fill="#2a2124"/>
<path d="M411.5 605.65 C415.5 609.65 415.5 616.65 413.2 620.15 L410.5 612.65 Z" fill="#3a2b2c"/>
<ellipse cx="401.4" cy="614.35" rx="11" ry="14.6" fill="#f2c9be"/>
<path d="M391.5 607.65 C393 601.65 398 599.15 403 599.65 C398.5 601.65 395 604.65 393.6 609.65 Z" fill="#3b2b2c"/>
<path d="M394.6 609.05 h4.4 M403.6 609.05 h4.4" stroke="#5b4342" stroke-width="1.1" fill="none"/>
<path d="M399.6 612.15 C399 615.15 398.6 616.65 400.6 617.05" stroke="#d9a59c" stroke-width=".9" fill="none"/>
<path d="M396.6 619.05 C399.5 621.25 404 621.05 406.6 618.25" stroke="#b9746f" stroke-width="1.2" fill="none"/>
<path d="M374 624.65 C381 621.65 387 620.15 391 621.25 L400.6 638.85 L411.8 624.85 C415 625.65 418 628.15 420 630.65 V644.65 H374 Z" fill="#15161a"/>
<path d="M391 621.25 L400.6 638.85 L411.8 624.85 C406 629.25 397 629.25 391 621.25 Z" fill="#eec3b5"/></g></svg>
<div class="bar" style="left:843px;top:614.45px;width:1315px;height:13.2px;background:#f4f4f4"></div>
<div class="bar" style="left:731.8px;top:614.15px;width:82.5px;border-radius:7px;background:#f1ede6;overflow:hidden"><div style="width:100.0%;height:100%;background:#93d89b"></div></div>
<div class="bar" style="left:841.85px;top:613.65px;width:60.65px;height:15px;background:#fff"></div>
<div class="bar" style="left:1010.60px;top:613.65px;width:58.45px;height:15px;background:#fff"></div>
<div class="bar" style="left:1066.85px;top:613.65px;width:58.45px;height:15px;background:#fff"></div>
<div class="bar" style="left:1123.10px;top:613.65px;width:58.45px;height:15px;background:#fff"></div>
<div class="bar" style="left:1179.35px;top:613.65px;width:58.45px;height:15px;background:#fff"></div>
<div class="bar" style="left:1235.60px;top:613.65px;width:58.45px;height:15px;background:#fff"></div>
<div class="bar" style="left:1404.35px;top:613.65px;width:58.45px;height:15px;background:#fff"></div>
<div class="bar" style="left:1460.60px;top:613.65px;width:58.45px;height:15px;background:#fff"></div>
<div class="bar" style="left:1516.85px;top:613.65px;width:58.45px;height:15px;background:#fff"></div>
<div class="bar" style="left:1573.10px;top:613.65px;width:58.45px;height:15px;background:#fff"></div>
<div class="bar" style="left:1629.35px;top:613.65px;width:58.45px;height:15px;background:#fff"></div>
<div class="bar" style="left:1798.10px;top:613.65px;width:58.45px;height:15px;background:#fff"></div>
<div class="bar" style="left:1854.35px;top:613.65px;width:58.45px;height:15px;background:#fff"></div>
<div class="bar" style="left:1910.60px;top:613.65px;width:58.45px;height:15px;background:#fff"></div>
<div class="bar" style="left:1966.85px;top:613.65px;width:58.45px;height:15px;background:#fff"></div>
<div class="bar" style="left:2023.10px;top:613.65px;width:58.45px;height:15px;background:#fff"></div>
<div class="vl" style="left:898.60px;top:613.15px;height:16px"></div>
<div class="bar" style="left:843.05px;top:614.15px;width:54.95px;background:#93d89b"></div>
<div class="vl" style="left:1067.35px;top:613.15px;height:16px"></div>
<div class="bar" style="left:1011.80px;top:614.15px;width:54.95px;background:#93d89b"></div>
<div class="vl" style="left:1123.60px;top:613.15px;height:16px"></div>
<div class="bar" style="left:1068.05px;top:614.15px;width:54.95px;background:#93d89b"></div>
<div class="vl" style="left:1179.85px;top:613.15px;height:16px"></div>
<div class="bar" style="left:1124.30px;top:614.15px;width:54.95px;background:#93d89b"></div>
<div class="vl" style="left:1236.10px;top:613.15px;height:16px"></div>
<div class="bar" style="left:1180.55px;top:614.15px;width:54.95px;background:#93d89b"></div>
<div class="vl" style="left:1292.35px;top:613.15px;height:16px"></div>
<div class="bar" style="left:1236.80px;top:614.15px;width:54.95px;background:#93d89b"></div>
<div class="vl" style="left:1461.10px;top:613.15px;height:16px"></div>
<div class="bar" style="left:1405.55px;top:614.15px;width:54.95px;background:#93d89b"></div>
<div class="vl" style="left:1517.35px;top:613.15px;height:16px"></div>
<div class="bar" style="left:1461.80px;top:614.15px;width:54.95px;background:#93d89b"></div>
<div class="vl" style="left:1573.60px;top:613.15px;height:16px"></div>
<div class="bar" style="left:1518.05px;top:614.15px;width:54.95px;background:#93d89b"></div>
<div class="vl" style="left:1629.85px;top:613.15px;height:16px"></div>
<div class="bar" style="left:1574.30px;top:614.15px;width:54.95px;background:#93d89b"></div>
<div class="vl" style="left:1686.10px;top:613.15px;height:16px"></div>
<div class="bar" style="left:1630.55px;top:614.15px;width:54.95px;background:#93d89b"></div>
<div class="vl" style="left:1854.85px;top:613.15px;height:16px"></div>
<div class="bar" style="left:1799.30px;top:614.15px;width:54.95px;background:#93d89b"></div>
<div class="vl" style="left:1911.10px;top:613.15px;height:16px"></div>
<div class="bar" style="left:1855.55px;top:614.15px;width:54.95px;background:#93d89b"></div>
<div class="vl" style="left:1967.35px;top:613.15px;height:16px"></div>
<div class="bar" style="left:1911.80px;top:614.15px;width:54.95px;background:#93d89b"></div>
<div class="vl" style="left:2023.60px;top:613.15px;height:16px"></div>
<div class="bar" style="left:1968.05px;top:614.15px;width:54.95px;background:#93d89b"></div>
<div class="vl" style="left:2079.85px;top:613.15px;height:16px"></div>
<div class="bar" style="left:2024.30px;top:614.15px;width:54.95px;background:#93d89b"></div>
<div class="hl" style="left:336px;top:655.70px;width:367px"></div>
<div class="t " style="left:430.86px;top:669.00px;font-size:20.71px;color:#161616;letter-spacing:0.000px;transform:scaleX(1.0462);transform-origin:0 0;">Chloé</div>
<div class="t " style="left:431.55px;top:697.00px;font-size:15.06px;color:#444;letter-spacing:0.030px;">2 task(s)</div>
<svg style="left:374px;top:668.30px" width="45" height="45" viewBox="374 668.30 45 45"><g transform="translate(0 -3.7)">
<path d="M388.500 673.30 h9" stroke="#8a8a8a" stroke-width=".7"/>
<path d="M395 675.60 C388 675.60 385.500 682.30 386.200 689.30 C386.500 694.30 388 697.80 390.500 698.80 L402 698.80 C404 695.30 405 689.30 404.300 684.30 C403.500 678.80 400 675.60 395 675.60 Z" fill="#38221c"/>
<ellipse cx="396.400" cy="688.60" rx="5.700" ry="7.600" fill="#e0a06f"/>
<ellipse cx="396.600" cy="692.30" rx="2.800" ry="1.100" fill="#f9ece4"/>
<path d="M380.500 703.30 C382 697.30 389 696.30 392.500 694.80 L398 705.30 L402 697.30 C407 698.30 412.500 700.30 413.500 706.30 C412 712.80 400 715.30 396 715.00 C390 714.80 381 712.30 380.500 703.30 Z" fill="#2b2b2c"/>
<path d="M392.500 694.80 L398 705.30 L402 697.30 C399 698.30 395 697.30 392.500 694.80 Z" fill="#dd9a6c"/></g></svg>
<div class="bar" style="left:843px;top:684.60px;width:1315px;height:13.2px;background:#f4f4f4"></div>
<div class="bar" style="left:731.8px;top:684.30px;width:82.5px;border-radius:7px;background:#f1ede6;overflow:hidden"><div style="width:57.8%;height:100%;background:#93d89b"></div></div>
<div class="bar" style="left:841.85px;top:683.80px;width:60.65px;height:15px;background:#fff"></div>
<div class="bar" style="left:1629.35px;top:683.80px;width:58.45px;height:15px;background:#fff"></div>
<div class="bar" style="left:1798.10px;top:683.80px;width:58.45px;height:15px;background:#fff"></div>
<div class="bar" style="left:1854.35px;top:683.80px;width:58.45px;height:15px;background:#fff"></div>
<div class="bar" style="left:1910.60px;top:683.80px;width:58.45px;height:15px;background:#fff"></div>
<div class="bar" style="left:1966.85px;top:683.80px;width:58.45px;height:15px;background:#fff"></div>
<div class="bar" style="left:2023.10px;top:683.80px;width:58.45px;height:15px;background:#fff"></div>
<div class="vl" style="left:898.60px;top:683.30px;height:16px"></div>
<div class="bar" style="left:843.05px;top:684.30px;width:54.95px;background:#f58a83"></div>
<div class="vl" style="left:1686.10px;top:683.30px;height:16px"></div>
<div class="bar" style="left:1630.55px;top:684.30px;width:54.95px;background:#93d89b"></div>
<div class="vl" style="left:1854.85px;top:683.30px;height:16px"></div>
<div class="bar" style="left:1799.30px;top:684.30px;width:54.95px;background:#93d89b"></div>
<div class="vl" style="left:1911.10px;top:683.30px;height:16px"></div>
<div class="bar" style="left:1855.55px;top:684.30px;width:54.95px;background:#93d89b"></div>
<div class="vl" style="left:1967.35px;top:683.30px;height:16px"></div>
<div class="bar" style="left:1911.80px;top:684.30px;width:54.95px;background:#93d89b"></div>
<div class="vl" style="left:2023.60px;top:683.30px;height:16px"></div>
<div class="bar" style="left:1968.05px;top:684.30px;width:54.95px;background:#93d89b"></div>
<div class="vl" style="left:2079.85px;top:683.30px;height:16px"></div>
<div class="bar" style="left:2024.30px;top:684.30px;width:54.95px;background:#93d89b"></div>
<div class="hl" style="left:336px;top:725.85px;width:367px"></div>
<div class="t " style="left:430.86px;top:739.00px;font-size:20.71px;color:#161616;letter-spacing:0.145px;">Chris Thompson</div>
<div class="t " style="left:431.17px;top:767.00px;font-size:15.06px;color:#444;letter-spacing:-0.148px;">1 task(s)</div>
<svg style="left:374px;top:738.45px" width="45" height="45" viewBox="374 738.45 45 45"><defs><clipPath id="c5"><circle cx="396" cy="760.95" r="21.200"/></clipPath></defs>
<g clip-path="url(#c5)"><rect x="374" y="738.45" width="45" height="45" fill="#9d2fbe"/>
<path d="M387.800 758.95 C386.500 748.95 390 743.95 396 743.95 C402 743.95 405.500 748.95 404.200 758.95 Z" fill="#1d1616"/>
<ellipse cx="396" cy="758.15" rx="7.200" ry="10" fill="#d9996b"/>
<ellipse cx="396" cy="762.75" rx="3.600" ry="2.200" fill="#f6f0ec"/>
<path d="M374 776.95 C378 769.95 388 768.95 391 767.45 L396 772.45 L401 767.45 C405 768.95 415 769.95 419 776.95 V784.95 H374 Z" fill="#a2a6b3"/>
<path d="M380 770.95 V782.95 M384 769.95 V782.95 M388 768.95 V782.95 M392 768.95 V782.95 M396 771.95 V782.95 M400 768.95 V782.95 M404 768.95 V782.95 M408 769.95 V782.95 M412 770.95 V782.95" stroke="#5f6373" stroke-width="1.1"/>
<path d="M376 773.95 H416 M376 777.95 H416" stroke="#6d7181" stroke-width=".8"/>
<path d="M391 767.45 L396 772.45 L401 767.45 C398 769.45 394 769.45 391 767.45 Z" fill="#c98a60"/></g></svg>
<div class="bar" style="left:843px;top:754.75px;width:1315px;height:13.2px;background:#f4f4f4"></div>
<div class="bar" style="left:731.8px;top:754.45px;width:82.5px;border-radius:7px;background:#f1ede6;overflow:hidden"><div style="width:100.0%;height:100%;background:#93d89b"></div></div>
<div class="bar" style="left:841.85px;top:753.95px;width:60.65px;height:15px;background:#fff"></div>
<div class="bar" style="left:1010.60px;top:753.95px;width:58.45px;height:15px;background:#fff"></div>
<div class="bar" style="left:1066.85px;top:753.95px;width:58.45px;height:15px;background:#fff"></div>
<div class="bar" style="left:1123.10px;top:753.95px;width:58.45px;height:15px;background:#fff"></div>
<div class="bar" style="left:1179.35px;top:753.95px;width:58.45px;height:15px;background:#fff"></div>
<div class="bar" style="left:1235.60px;top:753.95px;width:58.45px;height:15px;background:#fff"></div>
<div class="bar" style="left:1404.35px;top:753.95px;width:58.45px;height:15px;background:#fff"></div>
<div class="bar" style="left:1460.60px;top:753.95px;width:58.45px;height:15px;background:#fff"></div>
<div class="bar" style="left:1516.85px;top:753.95px;width:58.45px;height:15px;background:#fff"></div>
<div class="bar" style="left:1573.10px;top:753.95px;width:58.45px;height:15px;background:#fff"></div>
<div class="bar" style="left:1629.35px;top:753.95px;width:58.45px;height:15px;background:#fff"></div>
<div class="bar" style="left:1798.10px;top:753.95px;width:58.45px;height:15px;background:#fff"></div>
<div class="bar" style="left:1854.35px;top:753.95px;width:58.45px;height:15px;background:#fff"></div>
<div class="bar" style="left:1910.60px;top:753.95px;width:58.45px;height:15px;background:#fff"></div>
<div class="bar" style="left:1966.85px;top:753.95px;width:58.45px;height:15px;background:#fff"></div>
<div class="bar" style="left:2023.10px;top:753.95px;width:58.45px;height:15px;background:#fff"></div>
<div class="vl" style="left:898.60px;top:753.45px;height:16px"></div>
<div class="bar" style="left:843.05px;top:754.45px;width:54.95px;background:#93d89b"></div>
<div class="vl" style="left:1067.35px;top:753.45px;height:16px"></div>
<div class="bar" style="left:1011.80px;top:754.45px;width:54.95px;background:#93d89b"></div>
<div class="vl" style="left:1123.60px;top:753.45px;height:16px"></div>
<div class="bar" style="left:1068.05px;top:754.45px;width:54.95px;background:#93d89b"></div>
<div class="vl" style="left:1179.85px;top:753.45px;height:16px"></div>
<div class="bar" style="left:1124.30px;top:754.45px;width:54.95px;background:#93d89b"></div>
<div class="vl" style="left:1236.10px;top:753.45px;height:16px"></div>
<div class="bar" style="left:1180.55px;top:754.45px;width:54.95px;background:#93d89b"></div>
<div class="vl" style="left:1292.35px;top:753.45px;height:16px"></div>
<div class="bar" style="left:1236.80px;top:754.45px;width:54.95px;background:#93d89b"></div>
<div class="vl" style="left:1461.10px;top:753.45px;height:16px"></div>
<div class="bar" style="left:1405.55px;top:754.45px;width:54.95px;background:#93d89b"></div>
<div class="vl" style="left:1517.35px;top:753.45px;height:16px"></div>
<div class="bar" style="left:1461.80px;top:754.45px;width:54.95px;background:#93d89b"></div>
<div class="vl" style="left:1573.60px;top:753.45px;height:16px"></div>
<div class="bar" style="left:1518.05px;top:754.45px;width:54.95px;background:#93d89b"></div>
<div class="vl" style="left:1629.85px;top:753.45px;height:16px"></div>
<div class="bar" style="left:1574.30px;top:754.45px;width:54.95px;background:#93d89b"></div>
<div class="vl" style="left:1686.10px;top:753.45px;height:16px"></div>
<div class="bar" style="left:1630.55px;top:754.45px;width:54.95px;background:#93d89b"></div>
<div class="vl" style="left:1854.85px;top:753.45px;height:16px"></div>
<div class="bar" style="left:1799.30px;top:754.45px;width:54.95px;background:#93d89b"></div>
<div class="vl" style="left:1911.10px;top:753.45px;height:16px"></div>
<div class="bar" style="left:1855.55px;top:754.45px;width:54.95px;background:#93d89b"></div>
<div class="vl" style="left:1967.35px;top:753.45px;height:16px"></div>
<div class="bar" style="left:1911.80px;top:754.45px;width:54.95px;background:#93d89b"></div>
<div class="vl" style="left:2023.60px;top:753.45px;height:16px"></div>
<div class="bar" style="left:1968.05px;top:754.45px;width:54.95px;background:#93d89b"></div>
<div class="vl" style="left:2079.85px;top:753.45px;height:16px"></div>
<div class="bar" style="left:2024.30px;top:754.45px;width:54.95px;background:#93d89b"></div>
<div class="hl" style="left:336px;top:796.00px;width:367px"></div>
<div class="t " style="left:430.24px;top:809.00px;font-size:20.71px;color:#161616;letter-spacing:0.010px;">Dan McConnel</div>
<div class="t " style="left:431.17px;top:838.00px;font-size:15.06px;color:#444;letter-spacing:-0.148px;">1 task(s)</div>
<svg style="left:374px;top:808.60px" width="45" height="45" viewBox="374 808.60 45 45"><defs><clipPath id="c6"><circle cx="396" cy="831.10" r="21.400"/></clipPath></defs>
<g clip-path="url(#c6)"><rect x="374" y="808.60" width="45" height="45" fill="#16a6d6"/><ellipse cx="396" cy="823.10" rx="8.500" ry="11" fill="#7a2a1f"/></g></svg>
<div class="bar" style="left:843px;top:824.90px;width:1315px;height:13.2px;background:#f4f4f4"></div>
<div class="bar" style="left:731.8px;top:824.60px;width:82.5px;border-radius:7px;background:#f1ede6;overflow:hidden"><div style="width:100.0%;height:100%;background:#93d89b"></div></div>
<div class="bar" style="left:841.85px;top:824.10px;width:60.65px;height:15px;background:#fff"></div>
<div class="bar" style="left:1010.60px;top:824.10px;width:58.45px;height:15px;background:#fff"></div>
<div class="bar" style="left:1066.85px;top:824.10px;width:58.45px;height:15px;background:#fff"></div>
<div class="bar" style="left:1123.10px;top:824.10px;width:58.45px;height:15px;background:#fff"></div>
<div class="bar" style="left:1179.35px;top:824.10px;width:58.45px;height:15px;background:#fff"></div>
<div class="bar" style="left:1235.60px;top:824.10px;width:58.45px;height:15px;background:#fff"></div>
<div class="bar" style="left:1404.35px;top:824.10px;width:58.45px;height:15px;background:#fff"></div>
<div class="bar" style="left:1460.60px;top:824.10px;width:58.45px;height:15px;background:#fff"></div>
<div class="bar" style="left:1516.85px;top:824.10px;width:58.45px;height:15px;background:#fff"></div>
<div class="bar" style="left:1573.10px;top:824.10px;width:58.45px;height:15px;background:#fff"></div>
<div class="bar" style="left:1629.35px;top:824.10px;width:58.45px;height:15px;background:#fff"></div>
<div class="bar" style="left:1798.10px;top:824.10px;width:58.45px;height:15px;background:#fff"></div>
<div class="bar" style="left:1854.35px;top:824.10px;width:58.45px;height:15px;background:#fff"></div>
<div class="bar" style="left:1910.60px;top:824.10px;width:58.45px;height:15px;background:#fff"></div>
<div class="bar" style="left:1966.85px;top:824.10px;width:58.45px;height:15px;background:#fff"></div>
<div class="bar" style="left:2023.10px;top:824.10px;width:58.45px;height:15px;background:#fff"></div>
<div class="vl" style="left:898.60px;top:823.60px;height:16px"></div>
<div class="bar" style="left:843.05px;top:824.60px;width:54.95px;background:#93d89b"></div>
<div class="vl" style="left:1067.35px;top:823.60px;height:16px"></div>
<div class="bar" style="left:1011.80px;top:824.60px;width:54.95px;background:#93d89b"></div>
<div class="vl" style="left:1123.60px;top:823.60px;height:16px"></div>
<div class="bar" style="left:1068.05px;top:824.60px;width:54.95px;background:#93d89b"></div>
<div class="vl" style="left:1179.85px;top:823.60px;height:16px"></div>
<div class="bar" style="left:1124.30px;top:824.60px;width:54.95px;background:#93d89b"></div>
<div class="vl" style="left:1236.10px;top:823.60px;height:16px"></div>
<div class="bar" style="left:1180.55px;top:824.60px;width:54.95px;background:#93d89b"></div>
<div class="vl" style="left:1292.35px;top:823.60px;height:16px"></div>
<div class="bar" style="left:1236.80px;top:824.60px;width:54.95px;background:#93d89b"></div>
<div class="vl" style="left:1461.10px;top:823.60px;height:16px"></div>
<div class="bar" style="left:1405.55px;top:824.60px;width:54.95px;background:#93d89b"></div>
<div class="vl" style="left:1517.35px;top:823.60px;height:16px"></div>
<div class="bar" style="left:1461.80px;top:824.60px;width:54.95px;background:#93d89b"></div>
<div class="vl" style="left:1573.60px;top:823.60px;height:16px"></div>
<div class="bar" style="left:1518.05px;top:824.60px;width:54.95px;background:#93d89b"></div>
<div class="vl" style="left:1629.85px;top:823.60px;height:16px"></div>
<div class="bar" style="left:1574.30px;top:824.60px;width:54.95px;background:#93d89b"></div>
<div class="vl" style="left:1686.10px;top:823.60px;height:16px"></div>
<div class="bar" style="left:1630.55px;top:824.60px;width:54.95px;background:#93d89b"></div>
<div class="vl" style="left:1854.85px;top:823.60px;height:16px"></div>
<div class="bar" style="left:1799.30px;top:824.60px;width:54.95px;background:#93d89b"></div>
<div class="vl" style="left:1911.10px;top:823.60px;height:16px"></div>
<div class="bar" style="left:1855.55px;top:824.60px;width:54.95px;background:#93d89b"></div>
<div class="vl" style="left:1967.35px;top:823.60px;height:16px"></div>
<div class="bar" style="left:1911.80px;top:824.60px;width:54.95px;background:#93d89b"></div>
<div class="vl" style="left:2023.60px;top:823.60px;height:16px"></div>
<div class="bar" style="left:1968.05px;top:824.60px;width:54.95px;background:#93d89b"></div>
<div class="vl" style="left:2079.85px;top:823.60px;height:16px"></div>
<div class="bar" style="left:2024.30px;top:824.60px;width:54.95px;background:#93d89b"></div>
<svg style="left:2038px;top:20px" width="50" height="50" viewBox="2038 20 50 50"><defs><clipPath id="ch"><circle cx="2063" cy="45" r="23.200"/></clipPath><linearGradient id="hbg" x1="0" x2="1"><stop offset="0" stop-color="#615b5a"/><stop offset=".45" stop-color="#6f6663"/><stop offset=".72" stop-color="#8d7c6f"/><stop offset=".86" stop-color="#b39f88"/><stop offset="1" stop-color="#85736a"/></linearGradient></defs>
<g clip-path="url(#ch)"><rect x="2038" y="20" width="50" height="50" fill="url(#hbg)"/>
<path d="M2053.500 49 C2050 40 2052.500 30 2060 26 C2067 23.500 2074.500 26.500 2076.500 34 C2077.500 40 2076.500 45 2075.500 50 H2055 Z" fill="#1d191d"/>
<path d="M2068 23.500 C2071 22.500 2074 24 2075 27 C2073 26.500 2070.500 25.500 2068 23.500 Z" fill="#cdb28e"/>
<ellipse cx="2066.400" cy="46.200" rx="9.200" ry="10.600" fill="#c98c6a"/>
<path d="M2056.500 40 C2058 34 2069 31 2076.500 37 C2070 35 2063 36 2058.500 42.500 Z" fill="#1d191d"/>
<path d="M2060.200 43.800 h3.800 M2068.400 43.400 h3.800" stroke="#3a2620" stroke-width="1.300"/>
<path d="M2063.500 50.600 C2066 52.400 2069.500 52.200 2071.500 50.200" stroke="#f0dcd2" stroke-width="1.400" fill="none"/>
<path d="M2043 66 C2044.500 56 2051 49.500 2056.500 50.500 C2058.500 57 2067 59.500 2074.500 55.500 C2078.500 58 2080.500 62.500 2081 69 V72 H2043 Z" fill="#2f5868"/>
<path d="M2047 60 C2050.500 55.500 2054.500 54 2056.500 56 C2058.500 60 2057 64.500 2053 68 L2046 66 Z" fill="#d5e3e6"/>
<path d="M2062 61 C2066 62 2070.500 61 2073.500 59 C2074.500 63 2072.500 67 2068.500 70 H2061 Z" fill="#dfe9eb"/>
<path d="M2055 57.500 C2058 63 2062.500 64.500 2067 62" stroke="#1f3e4b" stroke-width="1.900" fill="none"/>
<path d="M2049.500 63.500 C2052 65.500 2055 66.500 2058 66.500" stroke="#7fd0d6" stroke-width="1.200" fill="none"/>
<path d="M2044.500 63 C2047.500 61.500 2049.500 59 2050.500 56" stroke="#5a4338" stroke-width="1.800" fill="none"/>
<path d="M2077.500 53 C2079.500 55 2080.500 58 2080 61" stroke="#2a2220" stroke-width="2.600" fill="none"/>
</g></svg></div></body></html>
